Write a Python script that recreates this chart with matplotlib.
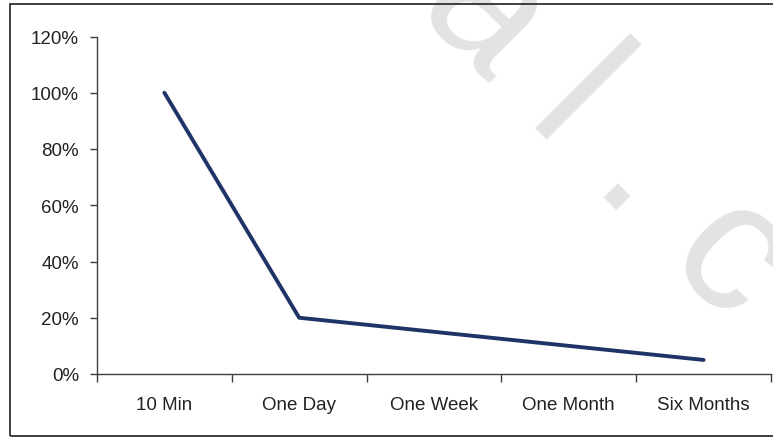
import matplotlib
matplotlib.use("Agg")
import matplotlib.pyplot as plt
from matplotlib.patches import Rectangle
from matplotlib.ticker import PercentFormatter, FixedLocator

# data
periods = ['10 Min', 'One Day', 'One Week', 'One Month', 'Six Months']
retention = [1.00, 0.20, 0.15, 0.10, 0.05]
y_ticks = [0, 0.2, 0.4, 0.6, 0.8, 1.0, 1.2]

plt.rcParams['font.family'] = ['Liberation Sans', 'DejaVu Sans']

fig = plt.figure(figsize=(7.73, 4.39), dpi=100)
ax = fig.add_axes([97 / 773, 1 - 375 / 439, (771 - 97) / 773, (375 - 37.5) / 439])

# faint watermark behind the chart
fig.text(415 / 773, 1 - 10 / 439, 'a l . c', fontsize=134,
         color='#e3e3e3', rotation=-45, rotation_mode='anchor',
         ha='left', va='baseline', zorder=0)

# outer frame (right edge runs off the picture)
fig.patches.append(Rectangle((10 / 773, 1 - 437 / 439), 1.0, (437 - 5) / 439,
                             transform=fig.transFigure, fill=False,
                             edgecolor='#303030', linewidth=1.3, zorder=1))

ax.patch.set_alpha(0)
x = list(range(len(periods)))
ax.plot(x, retention, color='#1f3466', linewidth=2.8, solid_capstyle='round',
        solid_joinstyle='round', zorder=3)

ax.set_xlim(-0.5, len(periods) - 0.5)
ax.set_ylim(0, 1.2)
ax.set_yticks(y_ticks)
ax.yaxis.set_major_formatter(PercentFormatter(1.0, decimals=0))
ax.set_xticks(x)
ax.set_xticklabels(periods)
ax.xaxis.set_minor_locator(FixedLocator([i - 0.5 for i in range(len(periods) + 1)]))

for side in ['top', 'right']:
    ax.spines[side].set_visible(False)
for side in ['left', 'bottom']:
    ax.spines[side].set_color('#404040')
    ax.spines[side].set_linewidth(1.0)

ax.tick_params(axis='x', which='major', length=0, pad=16, labelsize=13.5,
               labelcolor='#222222')
ax.tick_params(axis='x', which='minor', length=5.5, width=1.0, color='#404040')
ax.tick_params(axis='y', length=5, width=1.0, color='#404040', pad=8,
               labelsize=13.5, labelcolor='#222222')

fig.savefig('out.png', dpi=100)
